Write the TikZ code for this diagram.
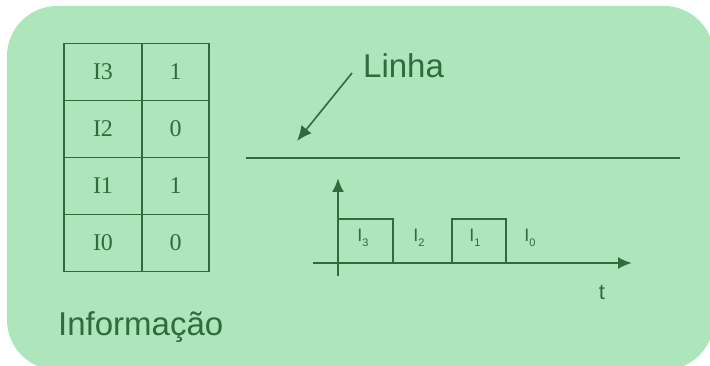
\documentclass[tikz,border=0pt]{standalone}
\usepackage{fontspec}
\setmainfont{Liberation Serif}
\setsansfont{Liberation Sans}
\usetikzlibrary{positioning, arrows, arrows.meta}

\definecolor{bggreen}{HTML}{AEE6BC}
\definecolor{ink}{HTML}{2F6B3D}

\newcommand{\slotname}[1]{I\raisebox{-5pt}{\fontsize{11}{11}\selectfont #1}}

\begin{document}
\begin{tikzpicture}[x=1pt,y=-1pt,node distance=57pt,on grid,
   cell/.style={draw=ink,line width=1.6pt,minimum height=57pt,inner sep=0pt,
                font=\fontsize{24}{24}\selectfont,text=ink},
   key/.style={cell,minimum width=78pt},
   val/.style={cell,minimum width=67pt},
   bigtext/.style={inner sep=0pt,text=ink,font=\sffamily\fontsize{33}{33}\selectfont},
   slot/.style={inner sep=0pt,text=ink,font=\sffamily\fontsize{18}{18}\selectfont},
   axis/.style={draw=ink,line width=2.2pt,-{Latex[length=14pt,width=12pt]}}]
   \useasboundingbox (0,0) rectangle (710,366);
   \fill[bggreen,rounded corners=50pt] (7,6) rectangle (714,370);

   % tabela
   \node[key] (i3) at (103,72) {I3};
   \node[val, right=72.5pt of i3] (v3) {1};
   \node[key, below=of i3] (i2) {I2};
   \node[val, below=of v3] (v2) {0};
   \node[key, below=of i2] (i1) {I1};
   \node[val, below=of v2] (v1) {1};
   \node[key, below=of i1] (i0) {I0};
   \node[val, below=of v1] (v0) {0};
   \node[bigtext, anchor=base west] (info) at (58,335) {Informação};

   % linha
   \node[bigtext, anchor=base west] (linha) at (363,78) {Linha};
   \coordinate (from) at (352,73);
   \coordinate (tip) at (297,141);
   \draw[draw=ink,line width=1.6pt,-{Latex[length=15pt,width=13pt]}] (from) -- (tip);
   \coordinate (l0) at (246,158);
   \coordinate (l1) at (680,158);
   \draw[ink,line width=2.6pt] (l0) -- (l1);

   % sinal
   \coordinate (ybot) at (338,276);
   \coordinate (ytop) at (338,178);
   \coordinate (xl) at (313,263);
   \coordinate (xr) at (632,263);
   \draw[axis] (ybot) -- (ytop);
   \draw[axis] (xl) -- (xr);
   \foreach \a/\b in {338/393,452/506}
      \draw[ink,line width=2.2pt] (\a,263) |- (\b,219) -- (\b,263);
   \foreach \x/\n in {363/3,419/2,475/1,530/0}
      \node[slot] (s\n) at (\x,238) {\slotname{\n}};
   \node[slot, font=\sffamily\fontsize{22}{22}\selectfont] (t) at (602,292) {t};
\end{tikzpicture}
\end{document}
